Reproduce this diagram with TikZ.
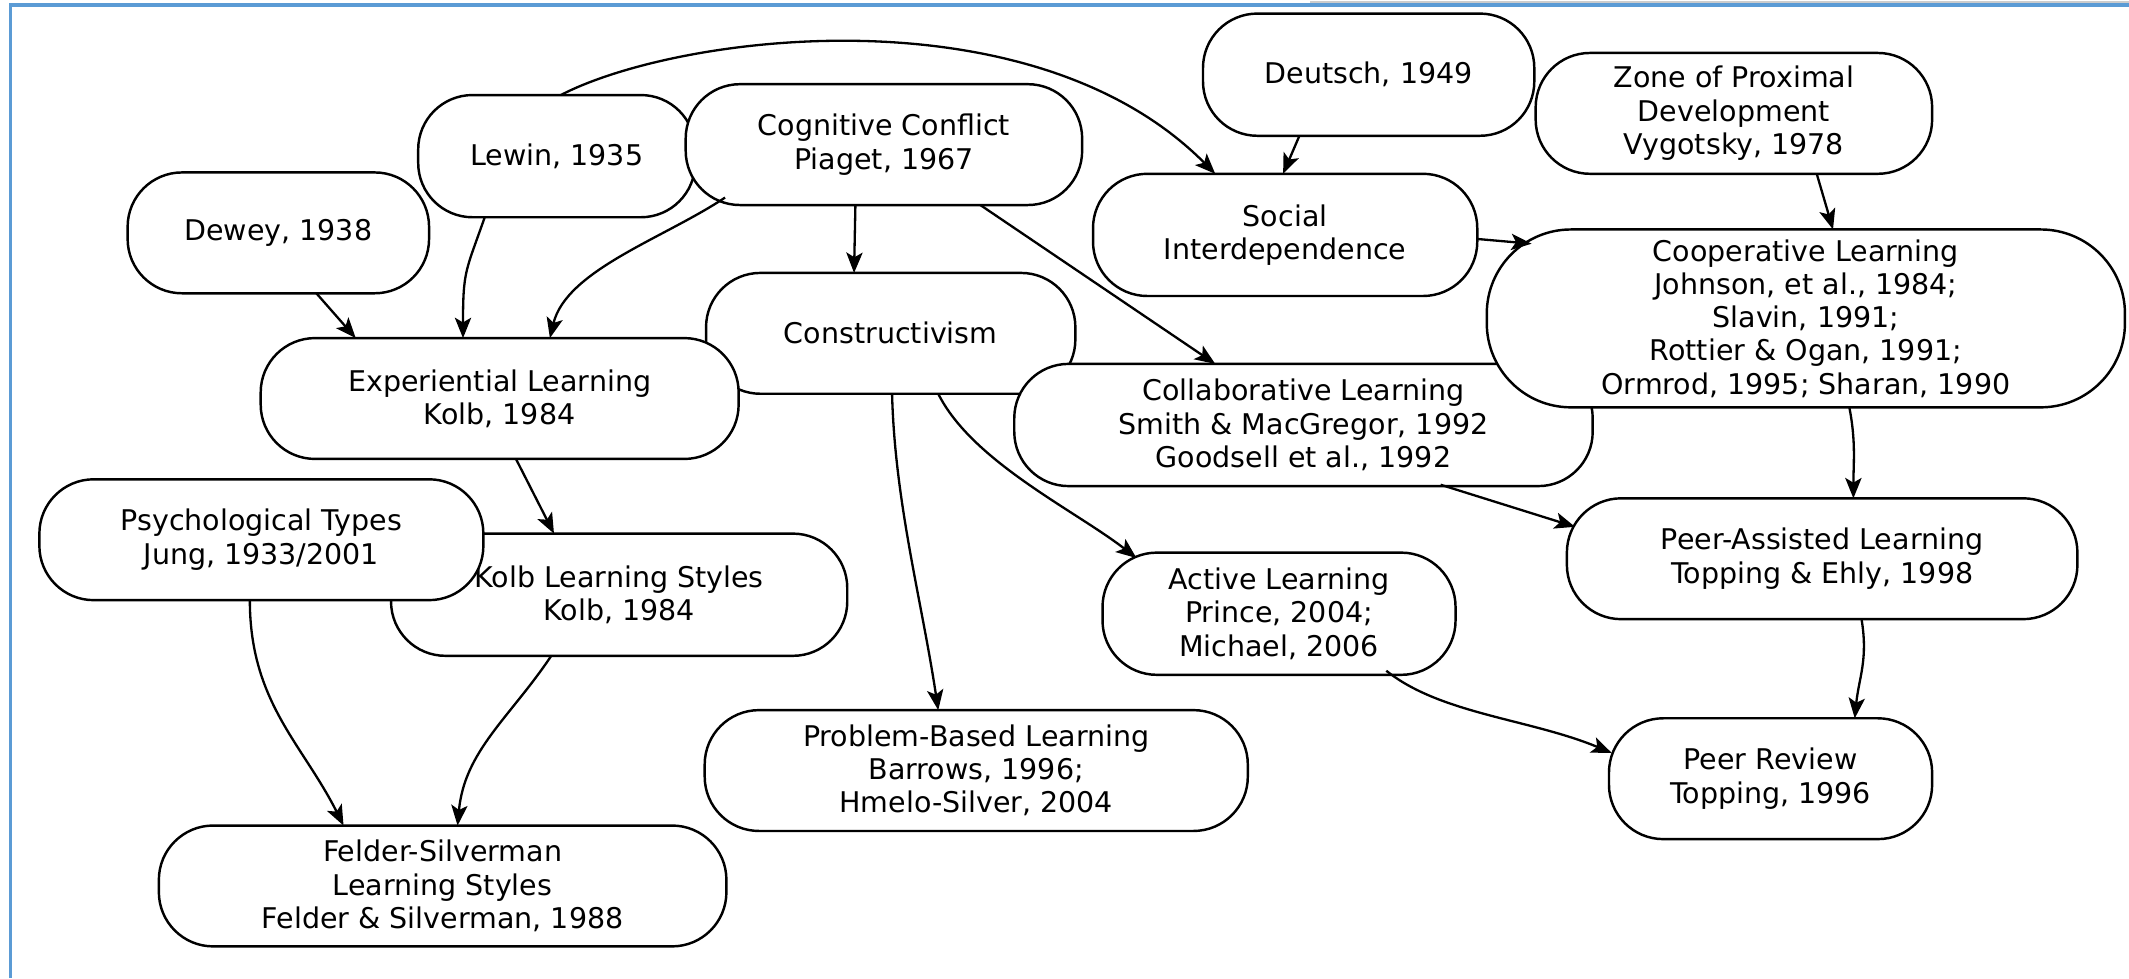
\documentclass[tikz,border=0pt]{standalone}
\usepackage{fontspec}
\setmainfont{DejaVu Sans}
\usetikzlibrary{arrows.meta,calc}
\definecolor{framecol}{RGB}{91,155,213}
\begin{document}
\begin{tikzpicture}[x=1pt,y=-1pt,
  box/.style={draw, fill=white, line width=1.8pt, rounded corners=40pt, inner sep=0pt,
    align=center, font=\fontsize{21}{24.5}\selectfont},
  edge/.style={line width=1.7pt, -{Stealth[length=15pt,width=12pt,inset=3.5pt]}}]
\useasboundingbox (0,0) rectangle (1568,720.3);
\fill[white] (0,0) rectangle (1568,720.3);
\draw[gray!40, line width=1pt] (965,1.6) -- (1568,1.6);
\draw[framecol, line width=2.4pt] (8,720.3) -- (8,3.7) -- (1568,3.7);

\node[box, minimum width=222pt, minimum height=89pt] (Dewey) at (205,171.5) {Dewey, 1938};
\node[box, minimum width=204pt, minimum height=90pt] (Lewin) at (410,115) {Lewin, 1935};
\node[box, minimum width=292pt, minimum height=89pt] (Cog) at (651,106.5) {Cognitive Conflict\\Piaget, 1967};
\node[box, minimum width=244pt, minimum height=90pt] (Deutsch) at (1008,55) {Deutsch, 1949};
\node[box, minimum width=292pt, minimum height=89pt] (Zone) at (1277,83.5) {Zone of Proximal\\Development\\Vygotsky, 1978};
\node[box, minimum width=283pt, minimum height=90pt] (Social) at (946.5,173) {Social\\Interdependence};
\node[box, minimum width=272pt, minimum height=89pt] (Constr) at (656,245.5) {Constructivism};
\node[box, minimum width=352pt, minimum height=89pt] (Exp) at (368,293.5) {Experiential Learning\\Kolb, 1984};
\node[box, minimum width=426pt, minimum height=90pt] (Collab) at (960,313) {Collaborative Learning\\Smith \& MacGregor, 1992\\Goodsell et al., 1992};
\node[box, rounded corners=62pt, minimum width=470pt, minimum height=131pt] (Coop) at (1330,234.5) {Cooperative Learning\\Johnson, et al., 1984;\\Slavin, 1991;\\Rottier \& Ogan, 1991;\\Ormrod, 1995; Sharan, 1990};
\node[box, minimum width=336pt, minimum height=90pt] (KolbLS) at (456,438) {Kolb Learning Styles\\Kolb, 1984};
\node[box, minimum width=327pt, minimum height=89pt] (Psych) at (192.5,397.5) {Psychological Types\\Jung, 1933/2001};
\node[box, minimum width=376pt, minimum height=89pt] (PeerA) at (1342,411.5) {Peer-Assisted Learning\\Topping \& Ehly, 1998};
\node[box, minimum width=260pt, minimum height=90pt] (Active) at (942,452) {Active Learning\\Prince, 2004;\\Michael, 2006};
\node[box, minimum width=400pt, minimum height=89pt] (PBL) at (719,567.5) {Problem-Based Learning\\Barrows, 1996;\\Hmelo-Silver, 2004};
\node[box, minimum width=238pt, minimum height=89pt] (PeerR) at (1304,573.5) {Peer Review\\Topping, 1996};
\node[box, minimum width=418pt, minimum height=89pt] (Felder) at (326,652.5) {Felder-Silverman\\Learning Styles\\Felder \& Silverman, 1988};

\draw[edge] ($(Lewin)+(3,-45)$) .. controls +(87,-45) and +(-135,-136) .. ($(Social)+(-51.5,-45)$);
\draw[edge] ($(Deutsch)+(-51,45)$) -- ($(Social)+(-1.5,-45)$);
\draw[edge] ($(Zone)+(61,44.5)$) -- ($(Coop)+(20,-65.5)$);
\draw[edge] ($(Social)+(141.5,3)$) -- ($(Coop)+(-202,-55)$);
\draw[edge] ($(Dewey)+(28,44.5)$) -- ($(Exp)+(-106,-44.5)$);
\draw[edge] ($(Lewin)+(-53,45)$) .. controls +(-14,40) and +(0,-50) .. ($(Exp)+(-27,-44.5)$);
\draw[edge] ($(Cog)+(-117,39)$) .. controls +(-45,30) and +(12,-50) .. ($(Exp)+(37,-44.5)$);
\draw[edge] ($(Cog)+(-21,44.5)$) -- ($(Constr)+(-27,-44.5)$);
\draw[edge] ($(Cog)+(71,44.5)$) -- ($(Collab)+(-65,-45)$);
\draw[edge] ($(Exp)+(12,44.5)$) -- ($(KolbLS)+(-48,-45)$);
\draw[edge] ($(Constr)+(1,44.5)$) .. controls +(2,80) and +(-12,-80) .. ($(PBL)+(-28,-44.5)$);
\draw[edge] ($(Constr)+(35,44.5)$) .. controls +(25,50) and +(-45,-35) .. ($(Active)+(-105,-41)$);
\draw[edge] ($(Collab)+(101,44)$) -- ($(PeerA)+(-182,-23.5)$);
\draw[edge] ($(Coop)+(32,65.5)$) .. controls +(5,25) and +(0,-25) .. ($(PeerA)+(23,-44.5)$);
\draw[edge] ($(PeerA)+(29,44.5)$) .. controls +(5,30) and +(3,-30) .. ($(PeerR)+(62,-44.5)$);
\draw[edge] ($(Active)+(79,42)$) .. controls +(40,32) and +(-60,-25) .. ($(PeerR)+(-117,-19)$);
\draw[edge] ($(Psych)+(-8.5,44.5)$) .. controls +(0,75) and +(-30,-60) .. ($(Felder)+(-73,-44.5)$);
\draw[edge] ($(KolbLS)+(-50,45)$) .. controls +(-30,45) and +(5,-55) .. ($(Felder)+(11,-44.5)$);
\end{tikzpicture}
\end{document}
